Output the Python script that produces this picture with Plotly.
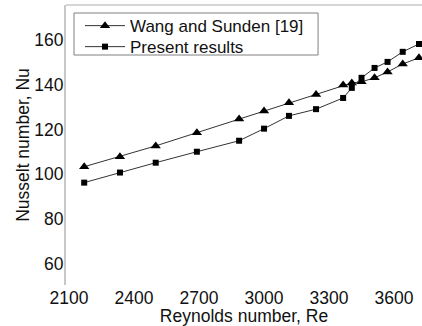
import plotly.graph_objects as go

# Reynolds numbers at which the Nusselt number was evaluated
reynolds = [2170, 2335, 2500, 2690, 2885, 3000, 3115, 3240, 3365, 3405, 3450, 3510, 3570, 3640, 3715]

# Wang and Sunden [19] reference correlation
nu_wang = [103.4, 107.9, 112.7, 118.6, 124.7, 128.3, 132.0, 135.7, 139.9, 140.8, 141.3, 143.1, 145.7, 149.3, 152.0]

# Present numerical results
nu_present = [96.3, 100.8, 105.2, 110.1, 115.0, 120.4, 126.1, 129.1, 134.1, 138.6, 143.1, 147.5, 150.2, 154.7, 158.2]

x_ticks = [2100, 2400, 2700, 3000, 3300, 3600]
y_ticks = [60, 80, 100, 120, 140, 160]

FONT = "Liberation Sans, Arial, sans-serif"
FS = 17.5
LEG_FS = 17

fig = go.Figure()
fig.add_trace(go.Scatter(
    x=reynolds, y=nu_wang, name="Wang and Sunden [19]",
    mode="lines+markers", legend="legend",
    line=dict(color="#333333", width=1),
    marker=dict(symbol="triangle-up", size=9, color="black"),
))
fig.add_trace(go.Scatter(
    x=reynolds, y=nu_present, name="Present results",
    mode="lines+markers", legend="legend2",
    line=dict(color="#333333", width=1),
    marker=dict(symbol="square", size=6, color="black"),
))

# thin frame line along the top of the plotting area
fig.add_shape(type="line", xref="paper", yref="paper", x0=0, x1=1, y0=1, y1=1,
              line=dict(color="#c8c8c8", width=1.5))

# common border around the two single-entry legends
fig.add_shape(type="rect", xref="paper", yref="paper",
              x0=0.0225, x1=0.708, y0=0.8214, y1=0.9714,
              line=dict(color="#808080", width=1), fillcolor="white", layer="below")

legend_style = dict(
    xanchor="left", yanchor="top", bgcolor="rgba(0,0,0,0)", borderwidth=0,
    font=dict(size=LEG_FS), itemwidth=40,
)

fig.update_layout(
    width=422, height=326,
    margin=dict(l=66, r=0, t=5, b=41),
    paper_bgcolor="white", plot_bgcolor="white",
    font=dict(family=FONT, size=FS, color="#111111"),
    showlegend=True,
    legend=dict(x=0.0393, y=0.989, **legend_style),
    legend2=dict(x=0.0393, y=0.914, **legend_style),
    xaxis=dict(
        range=[2086, 3729], tickvals=x_ticks, ticks="",
        showgrid=False, zeroline=False, showline=False,
        title=dict(text="Reynolds number, Re", standoff=2, font=dict(size=FS)),
    ),
    yaxis=dict(
        range=[50.6, 175.6], tickvals=y_ticks, ticks="",
        showgrid=False, zeroline=False,
        showline=True, linecolor="#c8c8c8", linewidth=2,
        title=dict(text="Nusselt number, Nu", standoff=0, font=dict(size=FS)),
        ticklabelstandoff=-3,
    ),
)

fig.write_html("out.html")
